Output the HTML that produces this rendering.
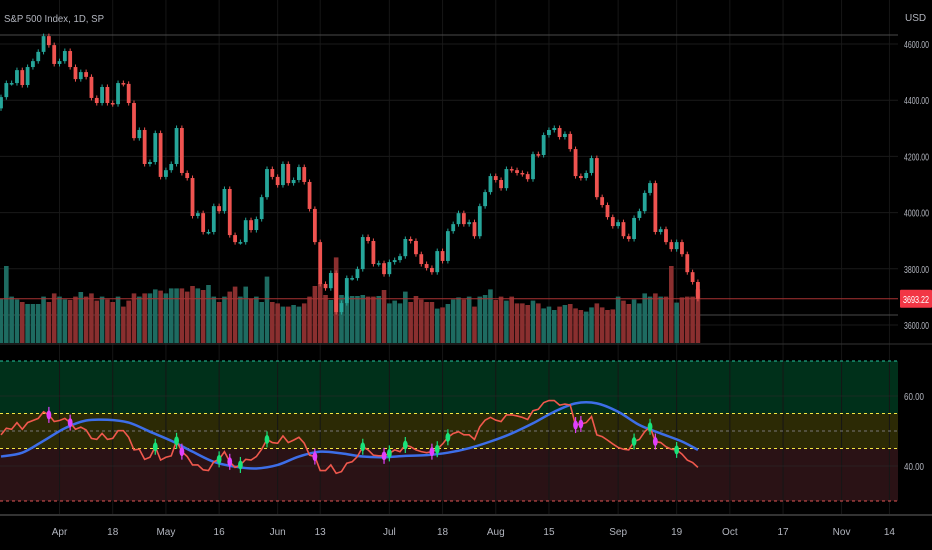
<!DOCTYPE html>
<html><head><meta charset="utf-8">
<style>
html,body{margin:0;padding:0;background:#000;width:932px;height:550px;overflow:hidden;font-family:"Liberation Sans",sans-serif}
svg{display:block}
</style></head>
<body>
<svg id="chart" width="932" height="550" xmlns="http://www.w3.org/2000/svg"></svg>
<script>
const closes=[4411,4461,4461,4507,4454,4518,4539,4572,4628,4596,4529,4539,4575,4518,4475,4500,4483,4408,4390,4447,4390,4386,4461,4458,4390,4265,4294,4173,4180,4283,4127,4151,4173,4301,4141,4123,3988,3998,3931,3931,4023,4005,4084,3920,3895,3895,3973,3938,3977,4055,4155,4127,4098,4173,4105,4116,4162,4109,4013,3895,3746,3731,3785,3646,3678,3767,3767,3799,
3913,3899,3817,3820,3781,3824,3831,3845,3906,3899,3852,3817,3803,3788,3863,3828,3934,3959,3998,3959,3966,3916,4023,4073,4130,4116,4087,4155,4151,4141,4137,4119,4208,4205,4276,4294,4301,4269,4280,4226,4130,4123,4141,4194,4055,4027,3984,3952,3966,3916,3906,3981,4005,4070,4105,3931,3941,3895,3870,3895,3852,3788,3753,3693.22];
const volumes=[2.23,3.85,2.32,2.18,2.05,1.95,1.95,1.95,2.32,2.05,2.48,2.32,2.18,2.15,2.32,2.55,2.32,2.48,2.12,2.32,2.18,2.05,2.32,1.82,2.12,2.48,2.32,2.48,2.48,2.68,2.62,2.48,2.73,2.73,2.73,2.57,2.85,2.73,2.65,2.9,2.32,2.05,2.32,2.57,2.82,2.32,2.82,2.23,2.32,2.05,3.32,2.05,1.98,1.82,1.82,1.9,1.82,1.98,2.32,2.85,2.98,2.4,2.15,4.28,2.4,2.32,2.35,2.35,
2.4,2.32,2.32,2.35,2.65,1.98,2.12,1.98,2.57,2.05,2.35,2.18,2.05,2.05,1.72,1.78,1.95,2.18,2.28,2.18,2.32,1.82,2.32,2.4,2.68,2.15,2.32,2.12,2.32,1.98,1.98,1.9,2.12,1.98,1.73,1.82,1.65,1.82,1.9,1.95,1.73,1.65,1.57,1.78,1.98,1.78,1.65,1.68,2.32,2.12,1.95,2.18,1.98,2.48,2.32,2.48,2.32,2.32,3.85,2.02,2.28,2.32,2.32,2.68];
const rsi=[48.9,50.8,50.5,52.4,50.5,52.4,53,53.6,55.5,54.6,52.7,53,53.6,52.4,50.5,51.1,50.3,47.9,47.6,49.3,47.6,47.9,50.1,50.1,48.2,44.6,44.8,41.9,42.5,45.5,41.7,42.5,42.9,47.2,44.1,42.7,40.3,40.3,38.9,38.7,41.2,41.9,44.1,41.2,39.6,40.3,41.9,41.7,42.7,44.8,47.6,46.7,46.5,48.6,46.7,47.4,48.2,46.5,43.1,42.7,38.7,38.7,40.3,37.9,38.4,40.8,41.2,42.7,45.5,44.6,43.1,42.9,42.9,43.6,44.6,44.1,46,45.5,44.6,44.1,43.8,44.1,44.8,46.3,48.2,
49.3,49.8,48.9,48.9,47.6,51.2,53.1,53.9,53.1,52.7,54.6,54.6,54.3,53.9,53.3,55.8,56.2,58.1,58.7,58.7,57.4,57.7,57.4,51.7,52,52.4,54.1,48.9,48.4,47.4,46.3,45.3,44.8,44.6,47,47.6,49.8,51.2,47,46.7,45.5,44.8,44.6,43.4,41.7,41,39.6];
const signalIdx=[0,4,8,12,16,20,24,28,32,36,40,44,48,52,56,60,64,68,72,76,80,84,88,92,96,100,104,108,112,116,120,124,128,131];
const signalVal=[42.7,43.8,47.2,50.8,53,53.2,52.4,49.8,47.2,44.1,41.2,39.8,39.3,40.3,42.7,44.1,43.6,42.7,42.5,42.9,43.1,43.8,45.1,47,49.3,52.2,55.5,57.9,57.9,55.5,51.7,49.3,47,44.6];
const buyIdx=[29,33,41,45,50,68,73,76,82,84,119,122,127];
const sellIdx=[9,13,34,43,59,72,81,108,109,123];
const priceTicks=[4600,4400,4200,4000,3800,3600];
const rsiTicks=[60,40];
const bandLevels=[70,55,50,45,30];
const timeTicks=[["2022-04-01","Apr"],["2022-04-18","18"],["2022-05-02","May"],["2022-05-16","16"],["2022-06-01","Jun"],["2022-06-13","13"],["2022-07-01","Jul"],["2022-07-18","18"],["2022-08-01","Aug"],["2022-08-15","15"],["2022-09-01","Sep"],["2022-09-19","19"],["2022-10-03","Oct"],["2022-10-17","17"],["2022-11-01","Nov"],["2022-11-14","14"]];
const holidays=["2022-04-15","2022-05-30","2022-06-20","2022-07-04","2022-09-05"];
const startDate="2022-03-17";

const svg=document.getElementById('chart');
const NS="http://www.w3.org/2000/svg";
function mk(tag,attrs,parent){const e=document.createElementNS(NS,tag);for(const k in attrs)e.setAttribute(k,attrs[k]);(parent||svg).appendChild(e);return e;}
const step=5.32, x0=1, plotW=898;
const xAt=i=>x0+i*step;
const yP=p=>44+(4600-p)*0.281;
const yR=v=>396+(60-v)*3.5;
const yV=v=>343-v*20;
const cal=[];(function(){let d=new Date(startDate+"T00:00:00Z");while(cal.length<200){const s=d.toISOString().slice(0,10);const wd=d.getUTCDay();if(wd!==0&&wd!==6&&holidays.indexOf(s)<0)cal.push(s);d.setUTCDate(d.getUTCDate()+1);}})();
const dateIdx=s=>{let i=cal.indexOf(s);if(i<0){for(i=0;i<cal.length&&cal[i]<s;i++);}return i;};

let r;
r=mk('rect',{x:0,y:yR(70),width:plotW,height:yR(55)-yR(70),fill:'#00301a'});

r=mk('rect',{x:0,y:yR(55),width:plotW,height:yR(45)-yR(55),fill:'#2c2a05'});

r=mk('rect',{x:0,y:yR(45),width:plotW,height:yR(30)-yR(45),fill:'#2a1215'});


timeTicks.forEach(t=>{const g=mk('line',{x1:xAt(dateIdx(t[0])),x2:xAt(dateIdx(t[0])),y1:0,y2:515,stroke:'#161616','stroke-width':1});
});
priceTicks.forEach(p=>{const g=mk('line',{x1:0,x2:plotW,y1:yP(p),y2:yP(p),stroke:'#1a1a1a'});

const t=mk('text',{x:904,y:yP(p)+4,fill:'#b2b5be','font-size':10,textLength:25,lengthAdjust:'spacingAndGlyphs'});t.textContent=p.toFixed(2);
});
rsiTicks.forEach(v=>{const g=mk('line',{x1:0,x2:plotW,y1:yR(v),y2:yR(v),stroke:'#2a2a2a','stroke-opacity':0.6});

const t=mk('text',{x:904,y:yR(v)+4,fill:'#b2b5be','font-size':10,textLength:20,lengthAdjust:'spacingAndGlyphs'});t.textContent=v.toFixed(2);
});
const bandCols={70:'#26c6a0',55:'#f5e642',50:'#777',45:'#f5e642',30:'#e05555'};
bandLevels.forEach(v=>{const g=mk('line',{x1:0,x2:plotW,y1:yR(v),y2:yR(v),stroke:bandCols[v],'stroke-width':1,'stroke-dasharray':'3,3'});
});

[[35,'#4a4a4a','top-reference-line'],[315,'#4a4a4a','support-line'],[344,'#333','pane-separator'],[515,'#333','time-axis-border']].forEach(a=>{
const l=mk('line',{x1:0,x2:a[2]==='pane-separator'||a[2]==='time-axis-border'?932:plotW,y1:a[0],y2:a[0],stroke:a[1],'stroke-width':a[2]==='time-axis-border'?2:1});
});

closes.forEach((c,i)=>{const up=i===0?true:c>=closes[i-1];
const b=mk('rect',{x:xAt(i)-2.3,y:yV(volumes[i]),width:4.6,height:343-yV(volumes[i]),fill:up?'#1e6b61':'#8a2f2f'});
});
const pl=mk('line',{x1:0,x2:plotW,y1:yP(closes[closes.length-1]),y2:yP(closes[closes.length-1]),stroke:'#a83232','stroke-width':1});

closes.forEach((c,i)=>{const o=i===0?c-40:closes[i-1];const up=c>=o;const col=up?'#26a69a':'#ef5350';
const hi=Math.max(o,c)+9,lo=Math.min(o,c)-9;
const w=mk('line',{x1:xAt(i),x2:xAt(i),y1:yP(hi),y2:yP(lo),stroke:col,'stroke-width':1});

const top=yP(Math.max(o,c)),bot=yP(Math.min(o,c));
const b=mk('rect',{x:xAt(i)-1.9,y:top,width:3.8,height:Math.max(1.5,bot-top),fill:col});
});

let d='';const pts=signalIdx.map((k,j)=>[xAt(k),yR(signalVal[j])]);
d='M'+pts[0][0]+','+pts[0][1];
for(let j=0;j<pts.length-1;j++){const p0=pts[Math.max(0,j-1)],p1=pts[j],p2=pts[j+1],p3=pts[Math.min(pts.length-1,j+2)];
d+=' C'+(p1[0]+(p2[0]-p0[0])/6)+','+(p1[1]+(p2[1]-p0[1])/6)+' '+(p2[0]-(p3[0]-p1[0])/6)+','+(p2[1]-(p3[1]-p1[1])/6)+' '+p2[0]+','+p2[1];}
const sc=mk('path',{d:d,fill:'none',stroke:'#3d6ee8','stroke-width':2.5});

const rl=mk('polyline',{points:rsi.map((v,i)=>xAt(i)+','+yR(v)).join(' '),fill:'none',stroke:'#f0584d','stroke-width':1.6});

function marker(i,col,name){const cx=xAt(i),cy=yR(rsi[i]);
const g=mk('g',{});

mk('line',{x1:cx,x2:cx,y1:cy-8,y2:cy+8,stroke:col,'stroke-width':1.2},g);
mk('ellipse',{cx:cx,cy:cy,rx:2.4,ry:4.5,fill:col},g);}
buyIdx.forEach(i=>marker(i,'#19e27a','buy-marker'));
sellIdx.forEach(i=>marker(i,'#e040fb','sell-marker'));

timeTicks.forEach(t=>{const tx=mk('text',{x:xAt(dateIdx(t[0])),y:535,fill:'#b2b5be','font-size':10,'text-anchor':'middle'});tx.textContent=t[1];
});

const lr=mk('rect',{x:900,y:yP(closes[closes.length-1])-9,width:32,height:18,fill:'#f23645',rx:1});

const lt=mk('text',{x:903,y:yP(closes[closes.length-1])+4,fill:'#fff','font-size':10,textLength:26,lengthAdjust:'spacingAndGlyphs'});lt.textContent=closes[closes.length-1].toFixed(2);

const tt=mk('text',{x:4,y:22,fill:'#b2b5be','font-size':10.5,textLength:100,lengthAdjust:'spacingAndGlyphs'});tt.textContent='S&P 500 Index, 1D, SP';

const cu=mk('text',{x:905,y:21,fill:'#b2b5be','font-size':10});cu.textContent='USD';

</script>
</body></html>
